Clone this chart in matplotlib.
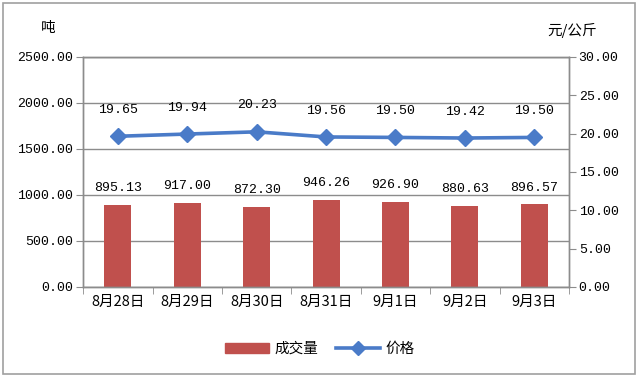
import matplotlib.pyplot as plt
import numpy as np
from matplotlib.patches import Rectangle
from matplotlib.lines import Line2D

plt.rcParams['font.family'] = ['Liberation Mono', 'Noto Sans CJK SC', 'DejaVu Sans']

dates = ["8月28日", "8月29日", "8月30日", "8月31日", "9月1日", "9月2日", "9月3日"]
volume = [895.13, 917.00, 872.30, 946.26, 926.90, 880.63, 896.57]
price = [19.65, 19.94, 20.23, 19.56, 19.50, 19.42, 19.50]

bar_color = "#C0504D"
line_color = "#4A7BC8"
grid_color = "#8C8C8C"
cjk = ['Noto Sans CJK SC', 'DejaVu Sans']

fig = plt.figure(figsize=(6.4, 3.77), dpi=100)
fig.patches.append(Rectangle((0.005, 0.008), 0.987, 0.984, transform=fig.transFigure,
                             fill=False, edgecolor="#A0A0A0", linewidth=1.2))

ax = fig.add_axes([0.130, 0.239, 0.759, 0.610])
ax2 = ax.twinx()

x = np.arange(len(dates))
ax.bar(x, volume, width=0.39, color=bar_color, zorder=2)
ax.set_xlim(-0.5, len(dates) - 0.5)
ax.set_ylim(0, 2500)
ax.set_yticks(np.arange(0, 2501, 500))
ax.set_yticklabels([f"{v:.2f}" for v in np.arange(0, 2501, 500)], fontsize=9.5)
ax.yaxis.grid(True, color=grid_color, linewidth=1)
ax.set_axisbelow(True)

# category labels in the middle, tick marks between categories
ax.set_xticks(x)
ax.set_xticklabels(dates, family=cjk, fontsize=10.5)
ax.set_xticks(np.arange(-0.5, len(dates)), minor=True)
ax.tick_params(axis="x", which="major", length=0, pad=6)
ax.tick_params(axis="x", which="minor", length=5, color=grid_color)
ax.tick_params(axis="y", length=5, color=grid_color, pad=2)

for i, v in enumerate(volume):
    ax.annotate(f"{v:.2f}", (x[i], v), textcoords="offset points", xytext=(0, 12),
                ha="center", va="center", fontsize=9.5)

ax2.plot(x, price, color=line_color, linewidth=2.6, marker="D", markersize=8.5, zorder=3)
ax2.set_ylim(0, 30)
ax2.set_yticks(np.arange(0, 31, 5))
ax2.set_yticklabels([f"{v:.2f}" for v in np.arange(0, 31, 5)], fontsize=9.5)
ax2.tick_params(axis="y", length=5, color=grid_color, pad=2)
for i, v in enumerate(price):
    ax2.annotate(f"{v:.2f}", (x[i], v), textcoords="offset points", xytext=(0, 19),
                 ha="center", va="center", fontsize=9.5)

for a in (ax, ax2):
    for s in a.spines.values():
        s.set_color(grid_color)
        s.set_linewidth(1)

fig.text(0.075, 0.925, "吨", family=cjk, fontsize=10.5, ha="center", va="center")
fig.text(0.894, 0.92, "元/公斤", family=cjk, fontsize=10.5, ha="center", va="center")

handles = [Rectangle((0, 0), 1, 1, color=bar_color),
           Line2D([], [], color=line_color, linewidth=2.6, marker="D", markersize=7)]
fig.legend(handles, ["成交量", "价格"], loc="center", bbox_to_anchor=(0.5, 0.075),
           ncol=2, frameon=False, prop={"family": cjk, "size": 10.5},
           handlelength=3.0, handleheight=0.7, columnspacing=1.2, handletextpad=0.4)

fig.savefig("out.png", dpi=100)
